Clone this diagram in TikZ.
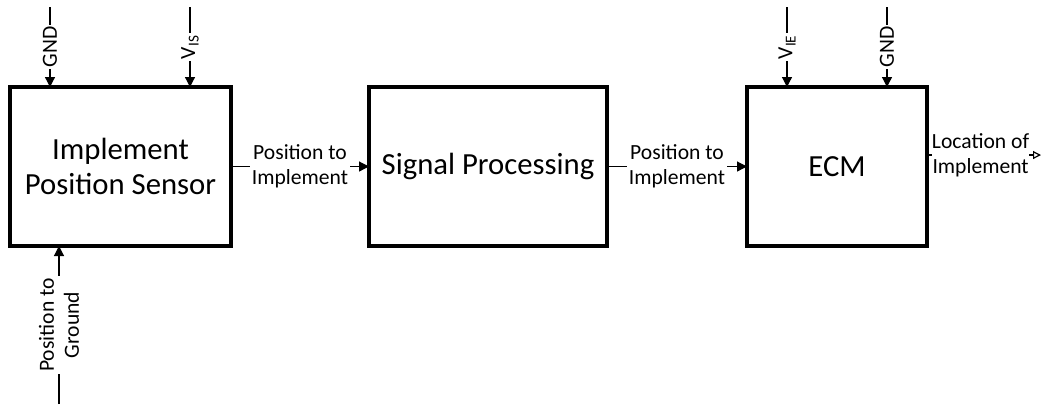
\documentclass[tikz,border=0pt]{standalone}
\usepackage{fontspec}
\setmainfont{Carlito}
\usetikzlibrary{arrows.meta, positioning}
\tikzset{blk/.style={draw, line width=1.7pt, outer sep=0pt, minimum height=79.5pt, align=center, font=\fontsize{15.35}{17.5}\selectfont},
  cn/.style={line width=0.6pt, -{Triangle[length=5pt, width=5pt]}},
  cnout/.style={line width=0.6pt, -{Triangle[open, length=4pt, width=4pt]}},
  lb/.style={fill=white, inner sep=1pt, align=center, font=\fontsize{10.8}{12.6}\selectfont}}

\begin{document}
\begin{tikzpicture}[x=0.5pt, y=-0.5pt]
  \useasboundingbox (0,0) rectangle (1042,404);
  \node[blk, minimum width=110.5pt] (isens) at (120.5,166.5) {Implement\\Position Sensor};
  \node[blk, minimum width=119pt] (sigproc) at (488,166.5) {Signal Processing};
  \node[blk, minimum width=90pt] (ecm) at (837,166.5) {ECM};
  \coordinate (gndA) at (50,7);
  \coordinate (vis) at (190,7);
  \coordinate (vie) at (787,7);
  \coordinate (gndB) at (887,7);
  \coordinate (posgnd) at (59,404);
  \coordinate (loc) at (1041,155);
  \draw[cn] (gndA) -- node[lb, rotate=90] {GND} (isens.north -| gndA);
  \draw[cn] (vis) -- node[lb, rotate=90] {V\textsubscript{IS}} (isens.north -| vis);
  \draw[cn] (vie) -- node[lb, rotate=90] {V\textsubscript{IE}} (ecm.north -| vie);
  \draw[cn] (gndB) -- node[lb, rotate=90] {GND} (ecm.north -| gndB);
  \draw[cn] (posgnd) -- node[lb, rotate=90] {Position to\\Ground} (isens.south -| posgnd);
  \draw[cn] (isens) -- node[lb] {Position to\\Implement} (sigproc);
  \draw[cn] (sigproc) -- node[lb] {Position to\\Implement} (ecm);
  \draw[cnout] (ecm.east |- loc) -- node[lb, pos=0.47, inner sep=0pt] {Location of\\Implement} (loc);
\end{tikzpicture}
\end{document}
